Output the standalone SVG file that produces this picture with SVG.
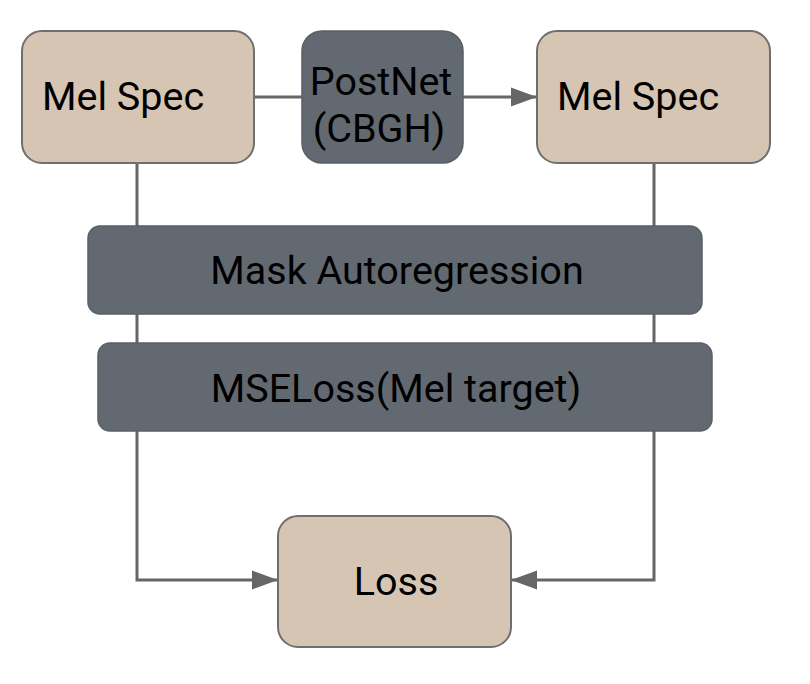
<svg xmlns="http://www.w3.org/2000/svg" width="810" height="684" viewBox="0 0 810 684">
  <style>
    .tan { fill: #d5c5b2; stroke: #6f6f6f; stroke-width: 2; }
    .dark { fill: #636970; stroke: #5a5f66; stroke-width: 1.5; }
    .t { font-family: Roboto, "Liberation Sans", sans-serif; font-size: 39.5px; fill: #000; }
    .c { text-anchor: middle; }
    .ln { fill: none; stroke: #666666; stroke-width: 3; }
  </style>
  <defs>
    <marker id="ah" markerUnits="userSpaceOnUse" markerWidth="26" markerHeight="20" refX="26" refY="10" orient="auto">
      <path d="M0,0.5 L26,10 L0,19.5 Z" fill="#666666"/>
    </marker>
  </defs>
  <g id="connectors">
    <line class="ln" x1="254" y1="97" x2="302" y2="97"/>
    <line class="ln" x1="463" y1="97" x2="537" y2="97" marker-end="url(#ah)"/>
    <polyline class="ln" points="137,163 137,580 278,580" marker-end="url(#ah)"/>
    <polyline class="ln" points="654,163 654,580 511,580" marker-end="url(#ah)"/>
  </g>
  <g id="melspec1">
    <rect class="tan" x="22" y="31" width="232" height="132" rx="20"/>
    <text class="t" x="42" y="110">Mel Spec</text>
  </g>
  <g id="postnet">
    <rect class="dark" x="302" y="31" width="161" height="132" rx="20"/>
    <text class="t c" x="381" y="95">PostNet</text>
    <text class="t c" x="379" y="142">(CBGH)</text>
  </g>
  <g id="melspec2">
    <rect class="tan" x="537" y="31" width="233" height="132" rx="20"/>
    <text class="t" x="557" y="110">Mel Spec</text>
  </g>
  <g id="mask">
    <rect class="dark" x="88" y="226" width="614" height="88" rx="12"/>
    <text class="t c" x="397" y="284">Mask Autoregression</text>
  </g>
  <g id="mseloss">
    <rect class="dark" x="98" y="343" width="614" height="88" rx="12"/>
    <text class="t c" x="396" y="402">MSELoss(Mel target)</text>
  </g>
  <g id="loss">
    <rect class="tan" x="278" y="516" width="233" height="131" rx="20"/>
    <text class="t c" x="396" y="595">Loss</text>
  </g>
</svg>
